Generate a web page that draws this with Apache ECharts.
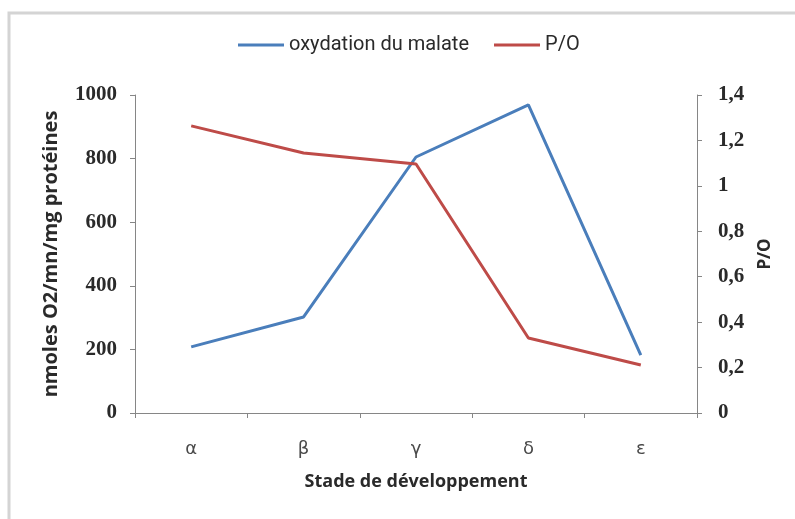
<!DOCTYPE html>
<html>
<head>
    <meta charset="UTF-8">
    <title>Oxydation du malate et P/O</title>
    <script src="https://cdn.jsdelivr.net/npm/echarts@6/dist/echarts.min.js"></script>
    <style>
        html, body { margin: 0; padding: 0; background: #fff; }
        #chart { width: 795px; height: 519px; }
    </style>
</head>
<body>
<div id="chart"></div>
<script type="text/javascript">
    // données
    var stades = ['α', 'β', 'γ', 'δ', 'ε'];
    var oxydation = [208, 302, 805, 969, 182];
    var po = [1.264, 1.145, 1.096, 0.330, 0.211];
    var ticksGauche = [0, 200, 400, 600, 800, 1000];
    var ticksDroite = [0, 0.2, 0.4, 0.6, 0.8, 1, 1.2, 1.4];

    var axisGris = '#868686';
    var texte = '#2a2a2a';

    var chart = echarts.init(document.getElementById('chart'));

    var option = {
        animation: false,
        backgroundColor: '#fff',
        graphic: [{
            type: 'rect',
            shape: { x: 9, y: 13, width: 820, height: 540 },
            style: { fill: 'none', stroke: '#d4d4d4', lineWidth: 3 }
        }],
        legend: {
            top: 30,
            left: 233,
            itemWidth: 46,
            itemHeight: 3,
            itemGap: 25,
            icon: 'rect',
            textStyle: { fontFamily: 'Roboto, sans-serif', fontSize: 20, color: texte },
            data: ['oxydation du malate', 'P/O']
        },
        grid: { left: 135, right: 98, top: 95, bottom: 106 },
        xAxis: {
            type: 'category',
            data: stades,
            boundaryGap: true,
            name: 'Stade de développement',
            nameLocation: 'middle',
            nameGap: 60,
            nameTextStyle: { fontFamily: 'Open Sans, sans-serif', fontWeight: 'bold', fontSize: 18, color: texte },
            axisLine: { lineStyle: { color: axisGris, width: 1 } },
            axisTick: { show: true, length: 5, alignWithLabel: false, lineStyle: { color: axisGris } },
            axisLabel: { margin: 27, fontFamily: 'DejaVu Sans, sans-serif', fontSize: 18, color: '#4a4a4a' }
        },
        yAxis: [{
            type: 'value',
            min: ticksGauche[0],
            max: ticksGauche[ticksGauche.length - 1],
            interval: 200,
            position: 'left',
            name: 'nmoles O2/mn/mg protéines',
            nameLocation: 'middle',
            nameGap: 74,
            nameRotate: 90,
            nameTextStyle: { fontFamily: 'Open Sans, sans-serif', fontWeight: 'bold', fontSize: 20, color: texte },
            axisLine: { show: true, lineStyle: { color: axisGris } },
            axisTick: { show: true, length: 5, lineStyle: { color: axisGris } },
            splitLine: { show: false },
            axisLabel: {
                margin: 18,
                fontFamily: 'Liberation Serif, serif',
                fontWeight: 'bold',
                fontSize: 21,
                color: texte,
                formatter: function (v) { return String(v); }
            }
        }, {
            type: 'value',
            min: ticksDroite[0],
            max: ticksDroite[ticksDroite.length - 1],
            interval: 0.2,
            position: 'right',
            name: 'P/O',
            nameLocation: 'middle',
            nameGap: 60,
            nameRotate: 90,
            nameTextStyle: { fontFamily: 'Open Sans, sans-serif', fontWeight: 'bold', fontSize: 17, color: texte },
            axisLine: { show: true, lineStyle: { color: axisGris } },
            axisTick: { show: true, length: 5, lineStyle: { color: axisGris } },
            splitLine: { show: false },
            axisLabel: {
                margin: 21,
                fontFamily: 'Liberation Serif, serif',
                fontWeight: 'bold',
                fontSize: 21,
                color: texte,
                formatter: function (v) { return String(Math.round(v * 10) / 10).replace('.', ','); }
            }
        }],
        series: [{
            name: 'oxydation du malate',
            type: 'line',
            yAxisIndex: 0,
            data: oxydation,
            symbol: 'none',
            itemStyle: { color: '#4A7EBB' },
            lineStyle: { color: '#4A7EBB', width: 3 }
        }, {
            name: 'P/O',
            type: 'line',
            yAxisIndex: 1,
            data: po,
            symbol: 'none',
            itemStyle: { color: '#BE4B48' },
            lineStyle: { color: '#BE4B48', width: 3 }
        }]
    };

    chart.setOption(option);
</script>
</body>
</html>
